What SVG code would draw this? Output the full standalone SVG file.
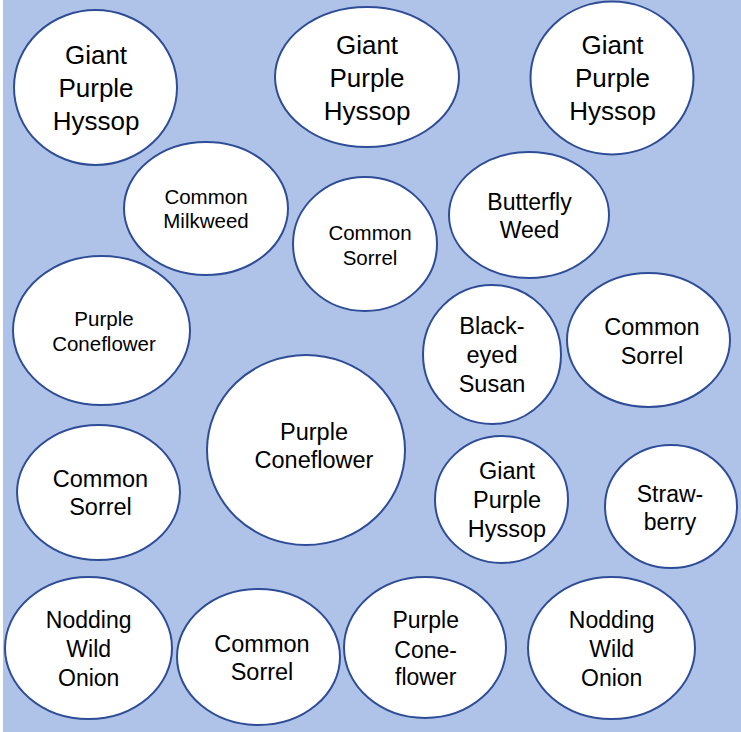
<svg xmlns="http://www.w3.org/2000/svg" width="741" height="732" viewBox="0 0 741 732">
<style>
.n ellipse{fill:#fff;stroke:#2f4d97;stroke-width:2}
.n text{font-family:"Liberation Sans",Arial,sans-serif;fill:#000;text-anchor:middle}
.xl text{font-size:26px}
.l text{font-size:23.5px}
.m text{font-size:23px}
.s text{font-size:20.5px}
</style>
<rect x="3" y="0" width="738" height="732" fill="#afc3e8"/>
<g id="connectors"/>
<g id="n1" class="n xl"><ellipse cx="95.5" cy="87.5" rx="81.5" ry="77.5"/><text x="96" y="64">Giant</text><text x="96" y="97">Purple</text><text x="96" y="130">Hyssop</text></g>
<g id="n2" class="n xl"><ellipse cx="367" cy="77" rx="92" ry="70"/><text x="367" y="54">Giant</text><text x="367" y="87">Purple</text><text x="367" y="120">Hyssop</text></g>
<g id="n3" class="n xl"><ellipse cx="612" cy="78" rx="81.5" ry="76.5"/><text x="612.5" y="54">Giant</text><text x="612.5" y="87">Purple</text><text x="612.5" y="120">Hyssop</text></g>
<g id="n4" class="n s"><ellipse cx="206" cy="208.5" rx="82" ry="66.5"/><text x="206" y="204">Common</text><text x="206" y="228">Milkweed</text></g>
<g id="n5" class="n s"><ellipse cx="365" cy="244" rx="72" ry="67"/><text x="370" y="240">Common</text><text x="370" y="265">Sorrel</text></g>
<g id="n6" class="n m"><ellipse cx="529" cy="215" rx="80" ry="63"/><text x="529.5" y="210">Butterfly</text><text x="529.5" y="238">Weed</text></g>
<g id="n7" class="n s"><ellipse cx="101.5" cy="330.5" rx="88.5" ry="74.5"/><text x="104" y="326">Purple</text><text x="104" y="351">Coneflower</text></g>
<g id="n8" class="n l"><ellipse cx="492" cy="354.5" rx="69" ry="69.5"/><text x="492" y="334">Black-</text><text x="492" y="363">eyed</text><text x="492" y="392">Susan</text></g>
<g id="n9" class="n l"><ellipse cx="648.5" cy="340" rx="81.5" ry="67"/><text x="652" y="335">Common</text><text x="652" y="364">Sorrel</text></g>
<g id="n10" class="n l"><ellipse cx="306" cy="450" rx="99" ry="95"/><text x="314" y="440">Purple</text><text x="314" y="468">Coneflower</text></g>
<g id="n11" class="n l"><ellipse cx="98.5" cy="492.5" rx="81.5" ry="67.5"/><text x="100.5" y="487">Common</text><text x="100.5" y="515">Sorrel</text></g>
<g id="n12" class="n l"><ellipse cx="501.5" cy="499.5" rx="66.5" ry="63.5"/><text x="507" y="479">Giant</text><text x="507" y="508">Purple</text><text x="507" y="537">Hyssop</text></g>
<g id="n13" class="n m"><ellipse cx="671" cy="506.5" rx="66" ry="61.5"/><text x="670" y="502">Straw-</text><text x="670" y="530">berry</text></g>
<g id="n14" class="n m"><ellipse cx="88.5" cy="648" rx="83.5" ry="71"/><text x="88.7" y="628">Nodding</text><text x="88.7" y="657">Wild</text><text x="88.7" y="686">Onion</text></g>
<g id="n15" class="n l"><ellipse cx="258.5" cy="657" rx="81.5" ry="68"/><text x="262" y="652">Common</text><text x="262" y="680">Sorrel</text></g>
<g id="n16" class="n m"><ellipse cx="425" cy="647.5" rx="81" ry="70.5"/><text x="425.7" y="628">Purple</text><text x="425.7" y="658">Cone-</text><text x="425.7" y="685">flower</text></g>
<g id="n17" class="n m"><ellipse cx="611.5" cy="648" rx="83.5" ry="71"/><text x="611.7" y="628">Nodding</text><text x="611.7" y="657">Wild</text><text x="611.7" y="686">Onion</text></g>
</svg>
